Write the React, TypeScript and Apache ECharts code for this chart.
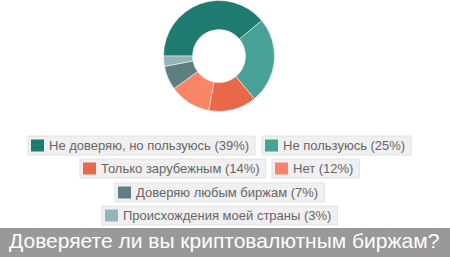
import React, { useEffect, useRef } from "react";
import * as echarts from "echarts";

const categories = [
  "Не доверяю, но пользуюсь",
  "Не пользуюсь",
  "Только зарубежным",
  "Нет",
  "Доверяю любым биржам",
  "Происхождения моей страны",
];
const values = [39, 25, 14, 12, 7, 3];
const colors = ["#1f7b6f", "#48a196", "#e8694a", "#fa8466", "#5e7f81", "#93b5b9"];
const titleText = "Доверяете ли вы криптовалютным биржам?";

// legend box placement (left, top) per item
const legendPos: [number, number][] = [
  [28, 136],
  [262, 136],
  [80, 159],
  [272, 159],
  [115, 183],
  [102, 206],
];

const FONT = '"Liberation Sans", Arial, sans-serif';

export default function App() {
  const ref = useRef<HTMLDivElement>(null);
  useEffect(() => {
    document.body.style.margin = "0";
    const chart = echarts.init(ref.current!, undefined, { renderer: "svg" });
    const total = values.reduce((a, b) => a + b, 0);
    const legends = categories.map((name, i) => ({
      data: [name],
      left: legendPos[i][0],
      top: legendPos[i][1],
      orient: "horizontal",
      padding: [3, 6, 3, 3],
      backgroundColor: "#f0f0f0",
      borderColor: "#e2e2e2",
      borderWidth: 1,
      borderRadius: 0,
      itemWidth: 13,
      itemHeight: 12,
      icon: "rect",
      selectedMode: false,
      itemStyle: { borderWidth: 0 },
      textStyle: { fontSize: 13, color: "#666", fontFamily: FONT },
      formatter: (n: string) => {
        const idx = categories.indexOf(n);
        return `${n} (${Math.round((values[idx] / total) * 100)}%)`;
      },
    }));
    chart.setOption({
      animation: false,
      color: colors,
      title: {
        text: titleText,
        left: 9,
        top: 230,
        padding: 0,
        textStyle: { color: "#fff", fontSize: 21, fontWeight: "normal", fontFamily: FONT },
        z: 10,
      },
      graphic: [
        {
          type: "rect",
          shape: { x: 0, y: 228, width: 450, height: 29 },
          style: { fill: "#999" },
          z: 1,
        },
      ],
      legend: legends,
      series: [
        {
          type: "pie",
          center: [219, 56],
          radius: [26.5, 55.5],
          startAngle: 180,
          clockwise: true,
          label: { show: false },
          labelLine: { show: false },
          itemStyle: { borderColor: "#fff", borderWidth: 0.5 },
          data: categories.map((name, i) => ({ name, value: values[i] })),
        },
      ],
    });
    return () => chart.dispose();
  }, []);
  return <div ref={ref} style={{ width: 450, height: 257, position: "absolute", left: 0, top: 0 }} />;
}
